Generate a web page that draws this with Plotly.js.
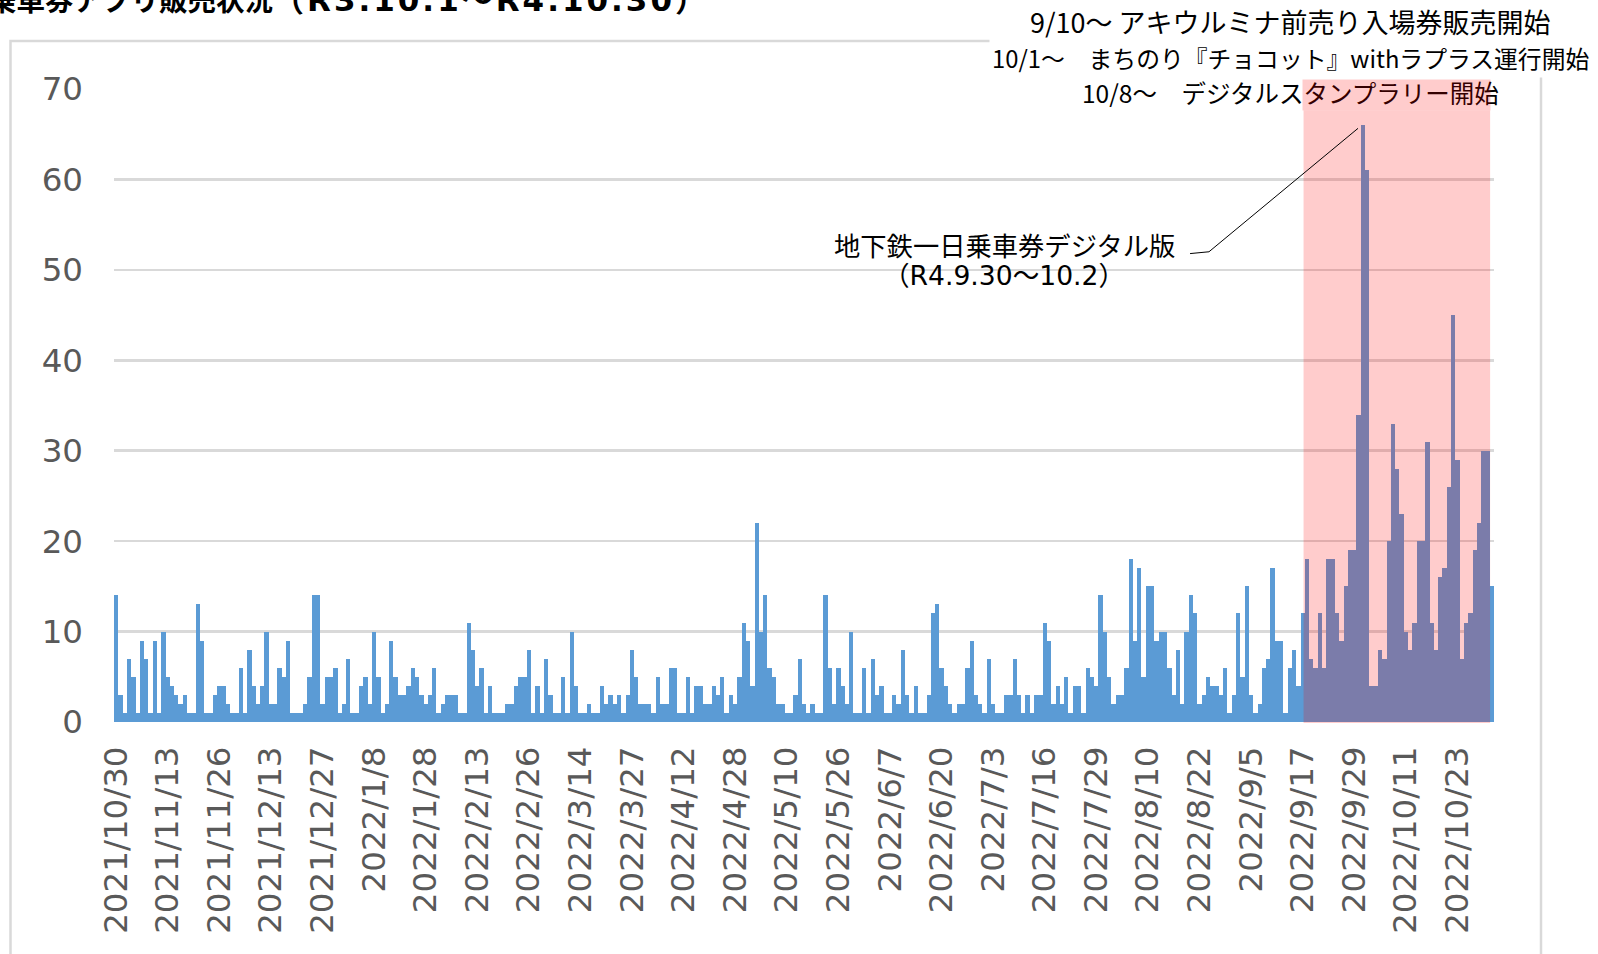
<!DOCTYPE html>
<html><head><meta charset="utf-8">
<script src="https://cdn.plot.ly/plotly-3.0.1.min.js"></script>
<style>html,body{margin:0;padding:0;background:#fff;overflow:hidden}#chart{width:1598px;height:954px}</style>
</head><body><div id="chart"></div>
<script>
// ---- data ----
const tickLabels = ["2021/10/30","2021/11/13","2021/11/26","2021/12/13","2021/12/27","2022/1/8","2022/1/28",
  "2022/2/13","2022/2/26","2022/3/14","2022/3/27","2022/4/12","2022/4/28","2022/5/10","2022/5/26","2022/6/7",
  "2022/6/20","2022/7/3","2022/7/16","2022/7/29","2022/8/10","2022/8/22","2022/9/5","2022/9/17","2022/9/29",
  "2022/10/11","2022/10/23"];
const tickEvery = 12; // one label per 12 categories
const sales = [
  14,3,1,7,5,1,9,7,1,9,
  1,10,5,4,3,2,3,1,1,13,
  9,1,1,3,4,4,2,1,1,6,
  1,8,4,2,4,10,2,2,6,5,
  9,1,1,1,2,5,14,14,2,5,
  5,6,1,2,7,1,1,4,5,2,
  10,5,1,2,9,5,3,3,4,6,
  5,3,2,3,6,1,2,3,3,3,
  1,1,11,8,4,6,1,4,1,1,
  1,2,2,4,5,5,8,1,4,1,
  7,3,1,1,5,1,10,4,1,1,
  2,1,1,4,2,3,2,3,1,3,
  8,5,2,2,2,1,5,2,2,6,
  6,1,1,5,1,4,4,2,2,4,
  3,5,1,3,2,5,11,9,4,22,
  10,14,6,5,2,2,1,1,3,7,
  2,1,2,1,1,14,6,2,6,4,
  2,10,1,1,6,1,7,3,4,1,
  1,3,2,8,3,1,4,1,1,3,
  12,13,6,4,2,1,2,2,6,9,
  3,2,1,7,2,1,1,3,3,7,
  3,1,3,1,3,3,11,9,2,4,
  2,5,1,4,4,1,6,5,4,14,
  10,5,2,3,3,6,18,9,17,5,
  15,15,9,10,10,6,3,8,2,10,
  14,12,2,3,5,4,4,3,6,1,
  3,12,5,15,3,1,2,6,7,17,
  9,9,1,6,8,4,12,18,7,6,
  12,6,18,18,12,9,15,19,19,34,
  66,61,4,4,8,7,20,33,28,23,
  10,8,11,20,20,31,11,8,16,17,
  26,45,29,7,11,12,19,22,30,30,
  15
];
const peakIndex = 290; // 地下鉄一日乗車券デジタル版 peak
const highlightFrom = 276.2, highlightTo = 319.6; // campaign period (category positions)

const titleMain = "乗車券アプリ販売状況";
const titleRange = "（R3.10.1～R4.10.30）";
const eventLines = ["9/10～ アキウルミナ前売り入場券販売開始",
                    "10/1～　まちのり『チョコット』withラプラス運行開始",
                    "10/8～　デジタルスタンプラリー開始"];
const calloutLines = ["地下鉄一日乗車券デジタル版", "（R4.9.30～10.2）"];

// ---- chart ----
const idx = sales.map((_, i) => i);
const tickvals = tickLabels.map((_, i) => i * tickEvery);
const jp = '"DejaVu Sans", "Noto Sans CJK JP", sans-serif';
const jpOnly = '"Noto Sans CJK JP", sans-serif';
const axFont = {family: '"DejaVu Sans", Verdana, sans-serif', size: 32.5, color: '#595959'};

const trace = {type: 'bar', x: idx, y: sales, marker: {color: '#5b9bd5', line: {width: 0}}, hoverinfo: 'x+y'};

const pTop = 89, pBot = 232, H = 954;
const plotH = H - pTop - pBot;
const py = v => (H - pBot - v) / plotH;      // pixel row -> paper y
const px = v => (v - 114) / 1380;            // pixel col -> paper x

const layout = {
  width: 1598, height: 954,
  margin: {l: 114, r: 104, t: pTop, b: pBot, pad: 0},
  paper_bgcolor: '#fff', plot_bgcolor: 'rgba(0,0,0,0)',
  bargap: 0, showlegend: false,
  xaxis: {range: [-0.5, sales.length - 0.5], tickmode: 'array', tickvals: tickvals, ticktext: tickLabels,
          tickangle: -90, tickfont: axFont, showgrid: false, zeroline: false, showline: false, ticks: '',
          ticklabelstandoff: 17, fixedrange: true},
  yaxis: {range: [0, 70], dtick: 10, tickfont: axFont, gridcolor: '#d9d9d9', gridwidth: 2.5,
          zeroline: false, showline: false, ticks: '', ticklabelstandoff: 30, fixedrange: true},
  shapes: [
    {type: 'rect', xref: 'paper', yref: 'paper', x0: px(10.5), x1: px(1541), y0: py(1100), y1: py(41),
     line: {color: '#d9d9d9', width: 2.5}, fillcolor: 'rgba(0,0,0,0)', layer: 'below'},
    {type: 'rect', xref: 'x', yref: 'paper', x0: highlightFrom, x1: highlightTo, y0: py(723), y1: py(79.5),
     line: {width: 0}, fillcolor: 'rgba(255,0,0,0.2)', layer: 'above'},
    {type: 'path', xref: 'x', yref: 'y',
     path: 'M249.8,51.8 L254.2,52.0 L' + (peakIndex - 1.13) + ',' + (sales[peakIndex] - 0.35),
     line: {color: '#000', width: 1}, layer: 'above'}
  ],
  annotations: [
    {xref: 'paper', yref: 'paper', x: px(-14), y: py(0.5), xanchor: 'left', yanchor: 'middle', showarrow: false,
     text: '<b>' + titleMain + '<span style="font-size:31px;letter-spacing:3px">' + titleRange + '</span></b>',
     font: {family: jp, size: 28.5, color: '#000'}},
    {xref: 'paper', yref: 'paper', x: px(1290), y: py(21.5), xanchor: 'center', yanchor: 'middle', showarrow: false,
     text: eventLines[0], font: {family: jpOnly, size: 27, color: '#000'}},
    {xref: 'paper', yref: 'paper', x: px(1290), y: py(57), xanchor: 'center', yanchor: 'middle', showarrow: false,
     text: eventLines[1], font: {family: jpOnly, size: 23.8, color: '#000'}, bgcolor: '#fff', borderpad: 2},
    {xref: 'paper', yref: 'paper', x: px(1290), y: py(92.7), xanchor: 'center', yanchor: 'middle', showarrow: false,
     text: eventLines[2], font: {family: jpOnly, size: 24.5, color: '#000'}, bgcolor: '#fff', borderpad: 0},
    {xref: 'x', yref: 'paper', x: (highlightFrom + highlightTo) / 2, y: py(79.5), xanchor: 'center', yanchor: 'top',
     showarrow: false, text: ' ', width: (highlightTo - highlightFrom) * 1380 / sales.length, height: 30,
     bgcolor: 'rgba(255,0,0,0.2)', borderpad: 0},
    {xref: 'paper', yref: 'paper', x: px(1004), y: py(244.6), xanchor: 'center', yanchor: 'middle', showarrow: false,
     text: calloutLines[0], font: {family: jpOnly, size: 26.3, color: '#000'}},
    {xref: 'paper', yref: 'paper', x: px(1004), y: py(275), xanchor: 'center', yanchor: 'middle', showarrow: false,
     text: calloutLines[1], font: {family: jp, size: 26.6, color: '#000'}}
  ]
};
Plotly.newPlot('chart', [trace], layout, {staticPlot: true, displayModeBar: false});
</script></body></html>
